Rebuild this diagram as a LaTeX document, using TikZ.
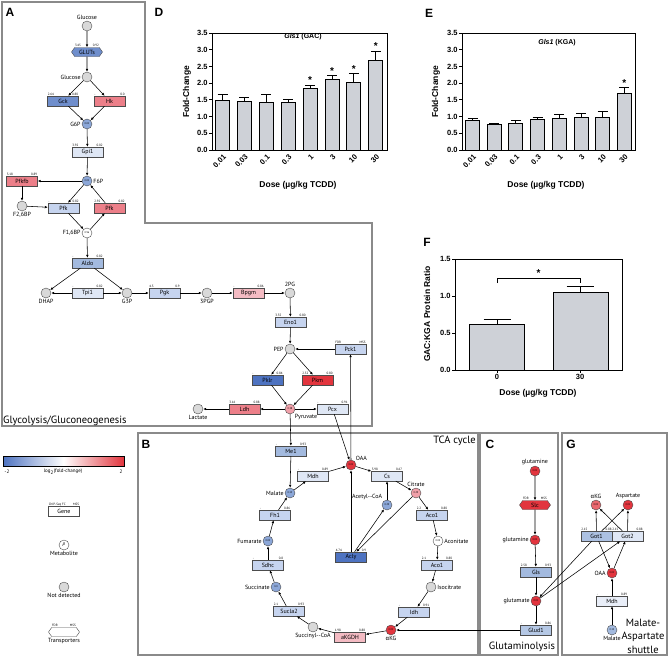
\documentclass[tikz,border=0pt]{standalone}
\usepackage{fontspec}
\setmainfont{Liberation Sans}
\newfontfamily\pathfont{PT Sans}
\newfontfamily\grkfont{Fira Sans}
\usetikzlibrary{arrows.meta,shapes.symbols}

\definecolor{nogrey}{HTML}{D9D9D9}
\definecolor{panelgrey}{HTML}{8A8A8A}
\definecolor{barfill}{HTML}{CED1D7}
\definecolor{fcdblue}{HTML}{4E73C1}
\definecolor{fcblue}{HTML}{6F8ECC}
\definecolor{fcmblue}{HTML}{A3BADF}
\definecolor{fclblue}{HTML}{C6D4EF}
\definecolor{fcpblue}{HTML}{DFE7F5}
\definecolor{fcpink}{HTML}{F4BBC3}
\definecolor{fcmred}{HTML}{EC7F89}
\definecolor{fcred}{HTML}{E2353E}
\definecolor{metblue}{HTML}{8CA7D8}
\definecolor{metpink}{HTML}{F0A0A9}

\newcommand\fcnums[3]{%
  \node[num,anchor=south west] (#1-fc) at (#1.north west) {#2};
  \node[num,anchor=south east] (#1-mss) at (#1.north east) {#3};}

\begin{document}
\begin{tikzpicture}[x=1pt,y=-1pt,>={Latex[length=3pt,width=2.6pt]},
  gene/.style={draw=black!70,line width=0.4pt,minimum width=31pt,minimum height=10pt,inner sep=0pt,font=\pathfont\fontsize{6}{6}\selectfont},
  met/.style={circle,draw=black!70,line width=0.4pt,minimum size=10pt,inner sep=0pt,font=\pathfont\fontsize{2.6}{3}\selectfont},
  nd/.style={met,fill=nogrey},
  trans/.style={signal,signal to=east and west,signal pointer angle=110,draw=black!70,line width=0.4pt,minimum width=31pt,minimum height=9pt,inner sep=0pt,font=\pathfont\fontsize{6}{6}\selectfont},
  num/.style={font=\pathfont\fontsize{3.2}{3.2}\selectfont,inner sep=0.4pt},
  lab/.style={font=\pathfont\fontsize{6}{6}\selectfont,inner sep=1pt},
  big/.style={font=\pathfont\fontsize{10.5}{13.5}\selectfont,inner sep=0pt},
  rxn/.style={->,line width=0.55pt},
  panel/.style={draw=panelgrey,line width=1.2pt},
  letter/.style={font=\bfseries\fontsize{12}{12}\selectfont,inner sep=0pt},
  ax/.style={font=\bfseries\fontsize{7.5}{7.5}\selectfont,inner sep=1pt},
  axlab/.style={font=\bfseries\fontsize{8.5}{8.5}\selectfont,inner sep=0pt},
  star/.style={font=\bfseries\fontsize{10}{10}\selectfont,inner sep=0pt,anchor=south},
  bar/.style={draw=black,line width=0.9pt,fill=barfill}]
\useasboundingbox (0,0) rectangle (669,657);

% panel frames
\draw[panel] (2,2) -- (145,2) -- (145,223) -- (372,223) -- (372,426) -- (2,426) -- cycle;
\draw[panel] (138,433) rectangle (478,655);
\draw[panel] (480,433) rectangle (558,655);
\draw[panel] (562,433) rectangle (667,655);
\node[letter] (labA) at (10,12) {A};
\node[letter] (labB) at (146,444) {B};
\node[letter] (labC) at (490,444) {C};
\node[letter] (labG) at (571,444) {G};

% glycolysis / gluconeogenesis
\node[nd,label={[lab]above:Glucose}] (glc0) at (87,26) {};
\node[trans,fill=fcblue] (gluts) at (87,52) {GLUTs};
\node[nd,label={[lab]left:Glucose}] (glc1) at (87,77) {};
\node[gene,fill=fcblue] (gck) at (63,101) {Gck};
\node[gene,fill=fcmred] (hk) at (109.5,101) {Hk};
\node[met,fill=metblue,label={[lab]left:G6P}] (g6p) at (87,124) {0.01};
\node[gene,fill=fcpblue] (gpi1) at (87.5,152) {Gpi1};
\node[met,fill=metblue,label={[lab]right:F6P}] (f6p) at (87,181) {0.01};
\node[gene,fill=fcmred] (pfkfb) at (22,181) {Pfkfb};
\node[nd,label={[lab]below:F2,6BP}] (f26bp) at (22,206) {};
\node[gene,fill=fclblue] (pfk1) at (63.5,208) {Pfk};
\node[gene,fill=fcmred] (pfk2) at (109.5,208) {Pfk};
\node[met,fill=white,label={[lab]left:F1,6BP}] (f16bp) at (87,233) {0.96};
\node[gene,fill=fcmblue] (aldo) at (87.5,263) {Aldo};
\node[nd,label={[lab]below:DHAP}] (dhap) at (46,293) {};
\node[gene,fill=fcpblue] (tpi1) at (87.5,293) {Tpi1};
\node[nd,label={[lab]below:G3P}] (g3p) at (127,293) {};
\node[gene,fill=fclblue] (pgk) at (164.5,293) {Pgk};
\node[nd,label={[lab]below:3PGP}] (pg3) at (207,293) {};
\node[gene,fill=fcpink] (bpgm) at (248.5,293) {Bpgm};
\node[nd,label={[lab]above:2PG}] (pg2) at (290,293) {};
\node[gene,fill=fclblue] (eno1) at (290.5,322) {Eno1};
\node[nd,label={[lab]left:PEP}] (pep) at (290,349) {};
\node[gene,fill=fclblue] (pck1) at (350.5,349) {Pck1};
\node[gene,fill=fcdblue] (pklr) at (267.5,380) {Pklr};
\node[gene,fill=fcred] (pkm) at (317.5,380) {Pkm};
\node[met,fill=metpink,label={[lab]below right:Pyruvate}] (pyr) at (290,409) {0.38};
\node[gene,fill=fcmred] (ldh) at (244.5,409) {Ldh};
\node[nd,label={[lab]below:Lactate}] (lac) at (198,409) {};
\node[gene,fill=fcpblue] (pcx) at (332.5,409) {Pcx};
\node[big,anchor=base west] (glyc) at (3,423) {Glycolysis/Gluconeogenesis};

% TCA cycle
\node[gene,fill=fcmblue] (me1) at (291,451) {Me1};
\node[met,fill=fcred,label={[lab]above right:OAA}] (oaa) at (351,465) {0.01};
\node[gene,fill=fcpblue] (mdh) at (313,476) {Mdh};
\node[gene,fill=fcpblue] (cs) at (387,476) {Cs};
\node[met,fill=metblue,label={[lab]left:Malate}] (malate) at (290,493) {0.15};
\node[met,fill=metpink,label={[lab]above:Citrate}] (citrate) at (416,493) {0.29};
\node[met,fill=metblue,label={[lab]above left:Acetyl--CoA}] (acoa) at (387,505) {0.29};
\node[gene,fill=fcdblue] (acly) at (351,557) {Acly};
\node[gene,fill=fclblue] (fh1) at (275,515) {Fh1};
\node[gene,fill=fclblue] (aco1a) at (432,515) {Aco1};
\node[met,fill=metblue,label={[lab]left:Fumarate}] (fum) at (268,541) {0.02};
\node[met,fill=white,label={[lab]right:Aconitate}] (acon) at (438,541) {0.03};
\node[gene,fill=fclblue] (sdhc) at (268,565) {Sdhc};
\node[gene,fill=fclblue] (aco1b) at (437,565) {Aco1};
\node[met,fill=metblue,label={[lab]left:Succinate}] (succ) at (276,587) {0.0};
\node[nd,label={[lab]right:Isocitrate}] (isocit) at (431,587) {};
\node[gene,fill=fclblue] (sucla2) at (289,611) {Sucla2};
\node[gene,fill=fclblue] (idh) at (414,612) {Idh};
\node[nd,label={[lab]below:Succinyl--CoA}] (succoa) at (313,627) {};
\node[gene,fill=fcpink] (akgdh) at (350,637) {aKGDH};
\node[met,fill=fcred,label={[lab]below:{\grkfont α}KG}] (akg) at (391,630) {0.01};
\node[big,anchor=east] (tcalab) at (476,441) {TCA cycle};

% glutaminolysis
\node[met,fill=fcred,label={[lab]above:glutamine}] (gln0) at (535,471) {0.01};
\node[trans,fill=fcred] (slc) at (535,505) {Slc};
\node[met,fill=fcred,label={[lab]left:glutamine}] (gln1) at (535,540) {0.01};
\node[gene,fill=fcmblue] (gls) at (536,572) {Gls};
\node[met,fill=fcred,label={[lab]left:glutamate}] (glu) at (536,601) {0.01};
\node[gene,fill=fcmblue!80] (glud1) at (536,630) {Glud1};
\node[big] (glutlab) at (522,647) {Glutaminolysis};

% malate-aspartate shuttle
\node[met,fill=fcred!75,label={[lab]above:{\grkfont α}KG}] (akgG) at (596,505) {0.01};
\node[met,fill=fcred,label={[lab]above:Aspartate}] (asp) at (628,505) {0.01};
\node[gene,fill=fcmblue!90] (got1) at (596.5,536) {Got1};
\node[gene,fill=fcpblue] (got2) at (627.5,536) {Got2};
\node[met,fill=fcred,label={[lab]left:OAA}] (oaaG) at (612,573) {0.01};
\node[gene,fill=fcpblue!70] (mdhG) at (612,601) {Mdh};
\node[met,fill=fcmblue,label={[lab]below:Malate}] (malG) at (612,630) {0.15};
\node[big,align=center] (maslab) at (643,636) {Malate-\\Aspartate\\shuttle};

% values above genes
\fcnums{gluts}{3.45}{0.92}
\fcnums{gck}{2.64}{0.80}
\fcnums{hk}{-}{0.0}
\fcnums{gpi1}{3.92}{0.02}
\fcnums{pfkfb}{3.18}{0.89}
\fcnums{pfk1}{-}{0.82}
\fcnums{pfk2}{2.92}{0.82}
\fcnums{aldo}{-}{0.82}
\fcnums{tpi1}{-}{0.82}
\fcnums{pgk}{4.3}{0.9}
\fcnums{bpgm}{-}{0.86}
\fcnums{eno1}{3.35}{0.80}
\fcnums{pck1}{FDR}{MSS}
\fcnums{pklr}{-}{0.84}
\fcnums{pkm}{2.52}{0.80}
\fcnums{ldh}{3.16}{0.88}
\fcnums{pcx}{-}{0.91}
\fcnums{me1}{-}{0.93}
\fcnums{mdh}{-}{0.89}
\fcnums{cs}{3.98}{0.67}
\fcnums{acly}{4.74}{0.9}
\fcnums{aco1a}{2.2}{0.80}
\fcnums{aco1b}{2.1}{0.80}
\fcnums{fh1}{-}{0.86}
\fcnums{sdhc}{-}{0.8}
\fcnums{sucla2}{2.1}{0.93}
\fcnums{idh}{-}{0.91}
\fcnums{akgdh}{1.98}{0.88}
\fcnums{slc}{FDR}{MSS}
\fcnums{gls}{2.58}{0.93}
\fcnums{glud1}{-}{0.86}
\fcnums{got1}{2.15}{0.88}
\fcnums{got2}{2.15}{0.88}
\fcnums{mdhG}{-}{0.89}

% reactions
\foreach \a/\b in {glc0/gluts,gluts/glc1,glc1/gck,glc1/hk,gck/g6p,hk/g6p,g6p/gpi1,gpi1/f6p,
    f6p/pfkfb,pfkfb/f26bp,f26bp/pfk1,f6p/pfk1,pfk1/f16bp,f16bp/pfk2,pfk2/f6p,f16bp/aldo,
    aldo/dhap,aldo/g3p,tpi1/dhap,tpi1/g3p,g3p/pgk,pgk/pg3,pg3/bpgm,bpgm/pg2,pg2/eno1,eno1/pep,
    pck1/pep,pep/pklr,pep/pkm,pklr/pyr,pkm/pyr,pyr/ldh,ldh/lac,pyr/pcx,pyr/me1,me1/malate,
    pcx/oaa,oaa/pck1,malate/mdh,mdh/oaa,oaa/cs,cs/citrate,acoa/cs,acly/oaa,acly/acoa,citrate/acly,
    citrate/aco1a,aco1a/acon,acon/aco1b,aco1b/isocit,isocit/idh,idh/akg,akg/akgdh,akgdh/succoa,
    succoa/sucla2,sucla2/succ,succ/sdhc,sdhc/fum,fum/fh1,fh1/malate,glud1/akg,
    gln0/slc,slc/gln1,gln1/gls,gls/glu,glu/glud1,
    got1/akgG,got2/asp,got1/asp,got2/akgG,got1/oaaG,oaaG/got2,mdhG/oaaG,malG/mdhG,got1/glu,glu/got2}
  \draw[rxn] (\a) -- (\b);

% legend
\shade[left color=fcdblue,right color=fcred,middle color=white] (3,456) rectangle (124,466);
\draw[line width=0.4pt] (3,456) rectangle (124,466);
\node[lab,font=\pathfont\fontsize{5}{5}\selectfont] (cbmin) at (7,472) {-2};
\node[lab,font=\pathfont\fontsize{5}{5}\selectfont] (cbmid) at (63,472) {log\textsubscript{2}(fold-change)};
\node[lab,font=\pathfont\fontsize{5}{5}\selectfont] (cbmax) at (121,472) {2};
\node[gene,fill=white] (lgene) at (64,511.5) {Gene};
\fcnums{lgene}{ChIP-Seq FC}{MSS}
\node[met,fill=white,label={[lab]below:Metabolite},font=\pathfont\itshape\fontsize{5}{5}\selectfont] (lmet) at (64,545) {p};
\node[nd,label={[lab]below:Not detected}] (lnd) at (64,587) {};
\node[trans,fill=white,label={[lab]below:Transporters}] (ltrans) at (64,632) {};
\fcnums{ltrans}{FDR}{MSS}

% panel D
\node[letter] (labD) at (159,12) {D};
\draw[line width=0.9pt] (212,33) rectangle (387,150);
\foreach \t [count=\j] in {0.0,0.5,1.0,1.5,2.0,2.5,3.0,3.5}
  \draw[line width=0.9pt] (212,{150-33.43*\t}) -- (209,{150-33.43*\t}) node[ax,anchor=east] (dtick\j) {\t};
\foreach \d/\v/\e/\s [count=\i from 0] in {0.01/1.47/0.18/0,0.03/1.46/0.10/0,0.1/1.41/0.24/0,0.3/1.42/0.10/0,
    1/1.84/0.10/1,3/2.10/0.12/1,10/2.02/0.27/1,30/2.68/0.28/1}{
  \pgfmathsetmacro\bx{222.5+21.9*\i}
  \draw[line width=0.9pt] (\bx,{150-33.43*\v}) -- (\bx,{150-33.43*(\v+\e)}) +(-5,0) -- +(5,0);
  \draw[bar] ({\bx-7},150) rectangle ({\bx+7},{150-33.43*\v});
  \node[ax,rotate=45,anchor=east] (dx\i) at ({\bx+3},155) {\d};
  \ifnum\s=1 \node[star] (ds\i) at (\bx,{150-33.43*(\v+\e)-1}) {*};\fi
}
\node[font=\bfseries\fontsize{7}{7}\selectfont] (dtitle) at (303,37) {\textit{Gls1} (GAC)};
\node[axlab,rotate=90] (dylab) at (187,92) {Fold-Change};
\node[axlab] (dxlab) at (298,185) {Dose (µg/kg TCDD)};

% panel E
\node[letter] (labE) at (429,13) {E};
\draw[line width=0.9pt] (462,33) rectangle (635,150);
\foreach \t [count=\j] in {0.0,0.5,1.0,1.5,2.0,2.5,3.0,3.5}
  \draw[line width=0.9pt] (462,{150-33.43*\t}) -- (459,{150-33.43*\t}) node[ax,anchor=east] (etick\j) {\t};
\foreach \d/\v/\e/\s [count=\i from 0] in {0.01/0.87/0.07/0,0.03/0.75/0.03/0,0.1/0.78/0.10/0,0.3/0.90/0.08/0,
    1/0.95/0.10/0,3/0.96/0.14/0,10/0.98/0.17/0,30/1.68/0.18/1}{
  \pgfmathsetmacro\bx{472.5+21.7*\i}
  \draw[line width=0.9pt] (\bx,{150-33.43*\v}) -- (\bx,{150-33.43*(\v+\e)}) +(-5,0) -- +(5,0);
  \draw[bar] ({\bx-7},150) rectangle ({\bx+7},{150-33.43*\v});
  \node[ax,rotate=45,anchor=east] (ex\i) at ({\bx+3},155) {\d};
  \ifnum\s=1 \node[star] (es\i) at (\bx,{150-33.43*(\v+\e)-1}) {*};\fi
}
\node[font=\bfseries\fontsize{7}{7}\selectfont] (etitle) at (557,43) {\textit{Gls1} (KGA)};
\node[axlab,rotate=90] (eylab) at (436,92) {Fold-Change};
\node[axlab] (exlab) at (546,185) {Dose (µg/kg TCDD)};

% panel F
\node[letter] (labF) at (427,242) {F};
\draw[line width=0.9pt] (455,259) rectangle (622,370);
\foreach \t [count=\j] in {0.0,0.5,1.0,1.5}
  \draw[line width=0.9pt] (455,{370-74*\t}) -- (452,{370-74*\t}) node[ax,anchor=east] (ftick\j) {\t};
\draw[line width=0.9pt] (497,{370-74*0.62}) -- (497,{370-74*0.68}) +(-13.5,0) -- +(13.5,0);
\draw[bar] (469,370) rectangle (524,{370-74*0.62});
\draw[line width=0.9pt] (580,{370-74*1.05}) -- (580,{370-74*1.13}) +(-13.5,0) -- +(13.5,0);
\draw[bar] (553,370) rectangle (608,{370-74*1.05});
\draw[line width=0.9pt] (497,370) -- (497,373) node[ax,anchor=north] (fx0) {0};
\draw[line width=0.9pt] (580,370) -- (580,373) node[ax,anchor=north] (fx30) {30};
\draw[line width=0.9pt] (497,283) -- (497,278) -- (580,278) -- (580,283);
\node[star] (fstar) at (538.5,277) {*};
\node[axlab,rotate=90] (fylab) at (427,314) {GAC:KGA Protein Ratio};
\node[axlab] (fxlab) at (538,393) {Dose (µg/kg TCDD)};
\end{tikzpicture}
\end{document}
